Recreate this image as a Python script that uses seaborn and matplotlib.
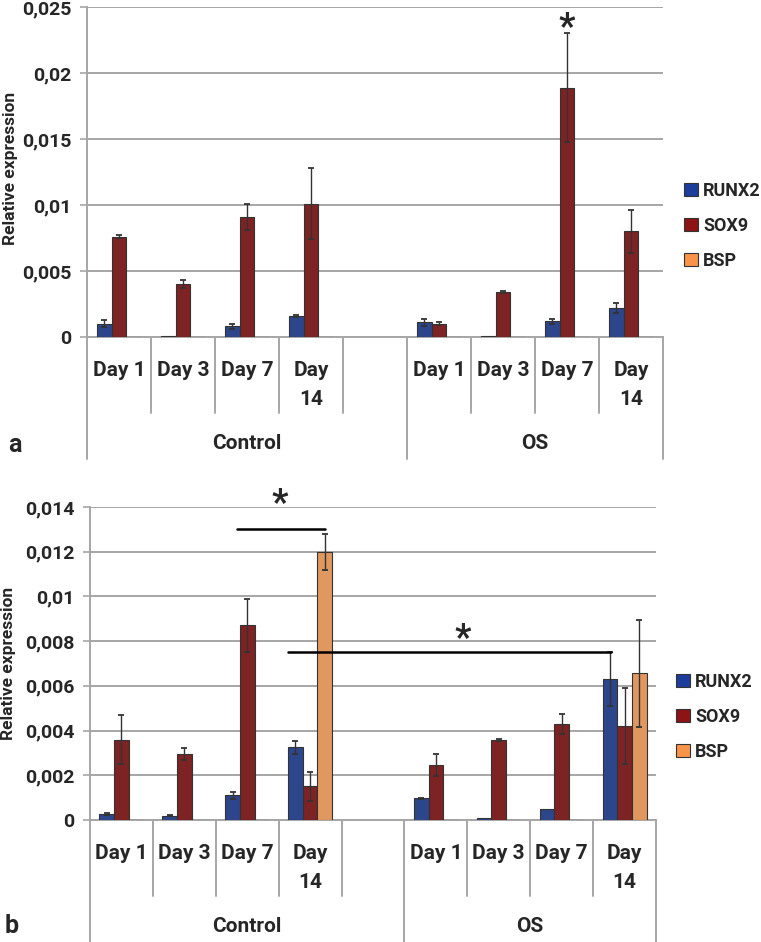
import numpy as np
import pandas as pd
import matplotlib
matplotlib.use("Agg")
import matplotlib.pyplot as plt
import matplotlib.transforms as mtransforms
from matplotlib.lines import Line2D
import seaborn as sns

# ---------------- data ----------------
genes = ["RUNX2", "SOX9", "BSP"]
gene_colors = ["#1d3d9a", "#8c1414", "#f7944a"]
groups = ["Control", "OS"]
days = ["Day 1", "Day 3", "Day 7", "Day\n14"]

# panel a
a_runx2 = [0.0010, 0.00005, 0.0008, 0.0016, 0.0011, 0.0001, 0.0012, 0.0022]
a_runx2_err = [0.00027, 0.0, 0.00018, 0.0001, 0.0003, 0.0, 0.0002, 0.0004]
a_sox9 = [0.0076, 0.0040, 0.0091, 0.0101, 0.0010, 0.0034, 0.0189, 0.0080]
a_sox9_err = [0.0001, 0.0003, 0.0010, 0.0027, 0.0001, 0.0001, 0.0041, 0.0016]
a_bsp = [0.00003, 0.00003, 0.00003, 0.00003, 0.00003, 0.00003, 0.00003, 0.00003]
a_bsp_err = [0.0, 0.0, 0.0, 0.0, 0.0, 0.0, 0.0, 0.0]
a_yticks = [0, 0.005, 0.01, 0.015, 0.02, 0.025]
a_yticklabels = ["0", "0,005", "0,01", "0,015", "0,02", "0,025"]

# panel b
b_runx2 = [0.00027, 0.0002, 0.0011, 0.00325, 0.00097, 0.0001, 0.0005, 0.0063]
b_runx2_err = [0.00003, 0.00003, 0.00015, 0.0003, 0.00003, 0.0, 0.0, 0.0012]
b_sox9 = [0.0036, 0.00295, 0.0087, 0.0015, 0.00245, 0.00358, 0.0043, 0.0042]
b_sox9_err = [0.0011, 0.00025, 0.0012, 0.00065, 0.0005, 0.00005, 0.00045, 0.0017]
b_bsp = [0.00002, 0.00002, 0.00002, 0.0120, 0.00002, 0.00002, 0.00002, 0.00656]
b_bsp_err = [0.0, 0.0, 0.0, 0.0008, 0.0, 0.0, 0.0, 0.0024]
b_yticks = [0, 0.002, 0.004, 0.006, 0.008, 0.01, 0.012, 0.014]
b_yticklabels = ["0", "0,002", "0,004", "0,006", "0,008", "0,01", "0,012", "0,014"]

# ---------------- style ----------------
sns.set_style("white")
plt.rcParams["font.family"] = ["Roboto", "DejaVu Sans"]
plt.rcParams["font.weight"] = "bold"

W, H = 761, 942
fig = plt.figure(figsize=(W / 100, H / 100), dpi=100)

# slot order: Control has 4 days + an empty slot, then OS 4 days
slot_order = [f"Control|{d}" for d in days] + ["Control|"] + [f"OS|{d}" for d in days]
data_slots = [f"Control|{d}" for d in days] + [f"OS|{d}" for d in days]


def make_df(runx2, runx2_err, sox9, sox9_err, bsp, bsp_err):
    rows = []
    vals = {"RUNX2": (runx2, runx2_err), "SOX9": (sox9, sox9_err), "BSP": (bsp, bsp_err)}
    for g in genes:
        v, e = vals[g]
        for s, vv, ee in zip(data_slots, v, e):
            rows.append({"slot": s, "gene": g, "value": vv, "err": ee})
    return pd.DataFrame(rows)


def draw_panel(ax, df, yticks, yticklabels, ymax, ax_h_px, letter, letter_xy, legend_xy):
    sns.barplot(data=df, x="slot", y="value", hue="gene", order=slot_order,
                hue_order=genes, palette=gene_colors, width=0.7, errorbar=None,
                edgecolor="#333333", linewidth=0.8, ax=ax, legend=False, zorder=3)
    # error bars
    for cont, g in zip(ax.containers, genes):
        for bar in cont:
            xc = bar.get_x() + bar.get_width() / 2
            idx = int(round(xc))
            s = slot_order[idx]
            row = df[(df.slot == s) & (df.gene == g)]
            if len(row) == 0:
                continue
            e = float(row.err.iloc[0])
            if e > 0:
                ax.errorbar(xc, bar.get_height(), yerr=e, fmt="none", ecolor="#333333",
                            elinewidth=1.0, capsize=2.5, capthick=1.3, zorder=4)
    ax.set_xlim(-0.5, len(slot_order) - 0.5)
    ax.set_ylim(0, ymax)
    ax.set_yticks(yticks)
    ax.set_yticklabels(yticklabels, fontsize=14, fontweight="bold")
    ax.yaxis.grid(True, color="#a6a6a6", linewidth=1.4, zorder=0)
    ax.set_axisbelow(True)
    ax.tick_params(axis="y", length=5, width=1.2, color="#a6a6a6", pad=6, left=True)
    ax.tick_params(axis="x", length=0, labelbottom=False)
    ax.set_xlabel("")
    ax.set_ylabel("Relative expression", fontsize=12.5, fontweight="bold")
    for sp in ["top", "right"]:
        ax.spines[sp].set_visible(False)
    ax.spines["left"].set_color("#a6a6a6")
    ax.spines["left"].set_linewidth(1.4)
    ax.spines["bottom"].set_color("#a6a6a6")
    ax.spines["bottom"].set_linewidth(1.4)

    trans = mtransforms.blended_transform_factory(ax.transData, ax.transAxes)
    def fy(px):
        return -px / ax_h_px

    # day labels
    for gi, grp in enumerate(groups):
        for di, d in enumerate(days):
            s = f"{grp}|{d}"
            xi = slot_order.index(s)
            ax.text(xi, fy(24), d, transform=trans, ha="center", va="top",
                    fontsize=15, fontweight="bold", linespacing=1.65, clip_on=False)
    # group labels
    ctrl_idx = [i for i, s in enumerate(slot_order) if s.startswith("Control|")]
    os_idx = [i for i, s in enumerate(slot_order) if s.startswith("OS|")]
    for grp, idxs in zip(groups, [ctrl_idx, os_idx]):
        xc = (min(idxs) + max(idxs)) / 2
        ax.text(xc, fy(107), grp, transform=trans, ha="center", va="center",
                fontsize=15, fontweight="bold", clip_on=False)
    # separators
    n = len(slot_order)
    group_edges = {-0.5, max(ctrl_idx) + 0.5, n - 0.5}
    for k in range(n + 1):
        xe = k - 0.5
        depth = 122 if xe in group_edges else 76
        ax.add_line(Line2D([xe, xe], [0, fy(depth)], transform=trans, color="#a6a6a6",
                           linewidth=1.4, clip_on=False))
    fig.text(letter_xy[0] / W, 1 - letter_xy[1] / H, letter, fontsize=18,
             fontweight="bold", ha="center", va="center")
    handles = [plt.Rectangle((0, 0), 1, 1, facecolor=c, edgecolor="#333333", linewidth=0.8)
               for c in gene_colors]
    fig.legend(handles, genes, loc="center left",
               bbox_to_anchor=(legend_xy[0] / W, 1 - legend_xy[1] / H),
               frameon=False, prop={"weight": "bold", "size": 13},
               handlelength=0.75, handleheight=0.75, handletextpad=0.3,
               labelspacing=0.95, borderpad=0, borderaxespad=0)


# ---------------- panel a ----------------
axa = fig.add_axes([87 / W, 1 - 337 / H, (663 - 87) / W, 330 / H])
dfa = make_df(a_runx2, a_runx2_err, a_sox9, a_sox9_err, a_bsp, a_bsp_err)
draw_panel(axa, dfa, a_yticks, a_yticklabels, 0.025, 330, "a", (15, 445), (684, 226))
axa.yaxis.set_label_coords(-0.12, 0.512)
axa.text(slot_order.index("OS|Day 7"), 0.0234, "*", ha="center", va="center",
         fontsize=26, fontweight="bold")

# ---------------- panel b ----------------
axb = fig.add_axes([90 / W, 1 - 820 / H, (656 - 90) / W, 313 / H])
dfb = make_df(b_runx2, b_runx2_err, b_sox9, b_sox9_err, b_bsp, b_bsp_err)
draw_panel(axb, dfb, b_yticks, b_yticklabels, 0.014, 313, "b", (12, 926), (676, 717))
axb.yaxis.set_label_coords(-0.13, 0.50)
# significance bars
i7 = slot_order.index("Control|Day 7")
i14 = slot_order.index("Control|Day\n14")
o14 = slot_order.index("OS|Day\n14")
axb.plot([i7 - 0.17, i14 + 0.233], [0.013, 0.013], color="black", lw=1.8, clip_on=False, zorder=5)
axb.text(2.52, 0.01415, "*", ha="center", va="center", fontsize=26, fontweight="bold", clip_on=False)
axb.plot([i14 - 0.35, o14 - 0.22], [0.0075, 0.0075], color="black", lw=1.8, zorder=5)
axb.text(5.42, 0.0081, "*", ha="center", va="center", fontsize=26, fontweight="bold")

fig.savefig("out.png", dpi=100)
